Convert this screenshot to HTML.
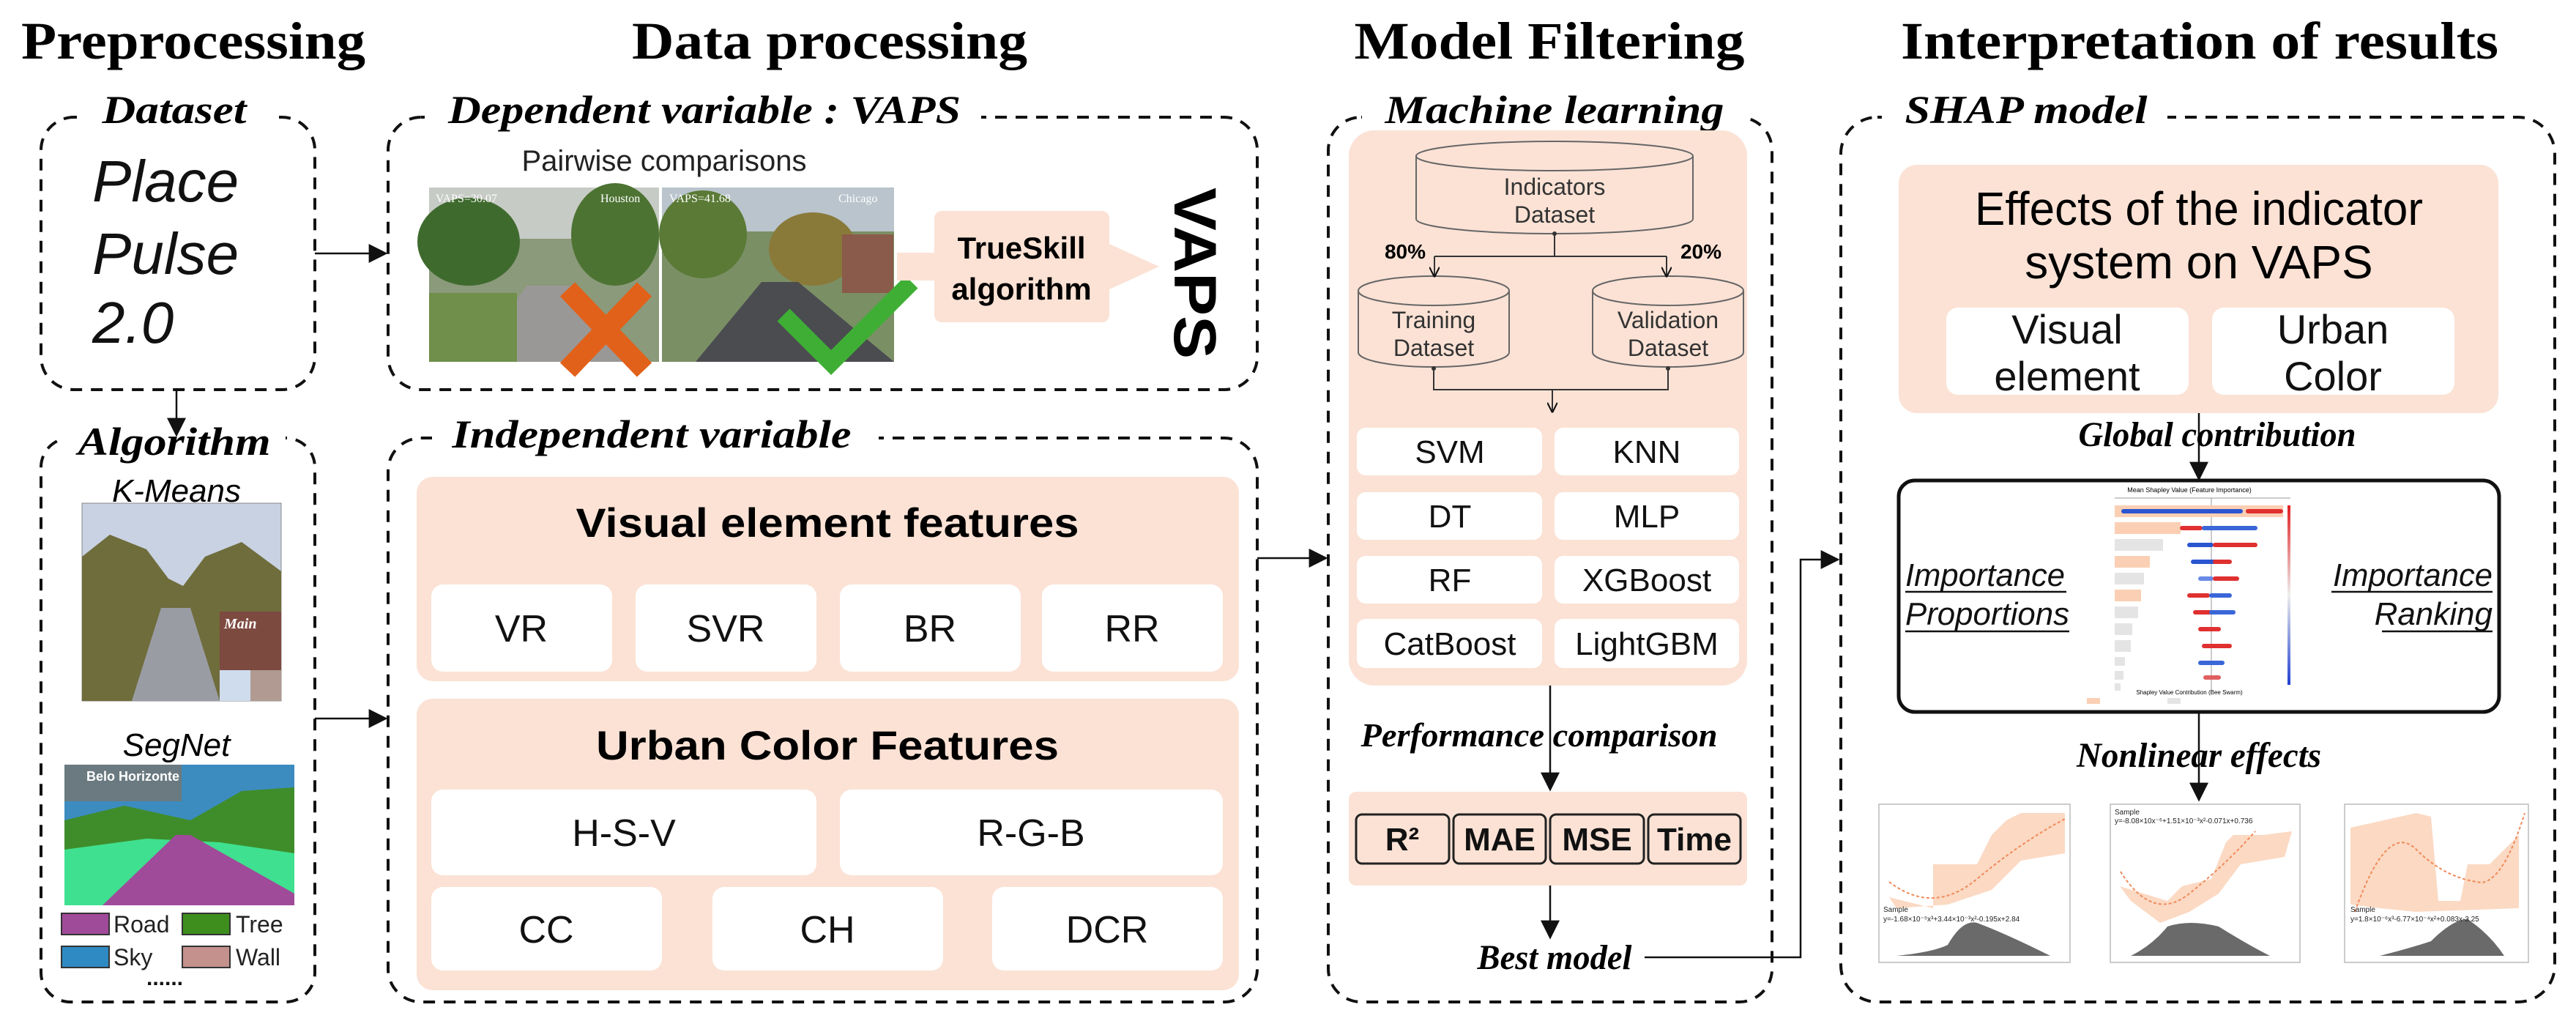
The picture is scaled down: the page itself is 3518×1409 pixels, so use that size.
<!DOCTYPE html>
<html><head><meta charset="utf-8"><style>
html,body{margin:0;padding:0;background:#fff;}
svg{display:block;}
.t{font-family:"Liberation Serif",serif;font-weight:bold;}
.lb{font-family:"Liberation Serif",serif;font-weight:bold;font-style:italic;}
.s{font-family:"Liberation Sans",sans-serif;}
</style></head><body>
<svg width="3518" height="1409" viewBox="0 0 3518 1409" xmlns="http://www.w3.org/2000/svg">
<defs>
<marker id="ah" markerWidth="10" markerHeight="10" refX="9" refY="5" orient="auto" markerUnits="userSpaceOnUse"><path d="M0,0 L10,5 L0,10 z" fill="#111"/></marker>
<marker id="ab" viewBox="0 0 10 10" markerWidth="26" markerHeight="26" refX="9" refY="5" orient="auto" markerUnits="userSpaceOnUse"><path d="M0,0 L10,5 L0,10 z" fill="#111"/></marker>
<marker id="as" viewBox="0 0 10 10" markerWidth="14" markerHeight="14" refX="9" refY="5" orient="auto" markerUnits="userSpaceOnUse"><path d="M0,0 L10,5 L0,10" fill="none" stroke="#111" stroke-width="1.5"/></marker>
</defs>

<!-- Titles -->
<text class="t" x="264" y="80" font-size="72" text-anchor="middle" textLength="470" lengthAdjust="spacingAndGlyphs">Preprocessing</text>
<text class="t" x="1133" y="80" font-size="72" text-anchor="middle" textLength="540" lengthAdjust="spacingAndGlyphs">Data processing</text>
<text class="t" x="2116" y="80" font-size="72" text-anchor="middle" textLength="533" lengthAdjust="spacingAndGlyphs">Model Filtering</text>
<text class="t" x="3004" y="80" font-size="72" text-anchor="middle" textLength="816" lengthAdjust="spacingAndGlyphs">Interpretation of results</text>

<g fill="none" stroke="#111" stroke-width="4" stroke-dasharray="16 12">
<rect x="56" y="160" width="374" height="372" rx="45"/>
<rect x="530" y="160" width="1187" height="372" rx="45"/>
<rect x="56" y="598" width="374" height="770" rx="40"/>
<rect x="530" y="598" width="1187" height="770" rx="45"/>
<rect x="1814" y="160" width="606" height="1208" rx="45"/>
<rect x="2514" y="160" width="975" height="1208" rx="50"/>
</g>
<!-- label backgrounds -->
<g fill="#fff">
<rect x="105" y="120" width="265" height="60"/>
<rect x="580" y="120" width="760" height="60"/>
<rect x="85" y="570" width="305" height="60"/>
<rect x="590" y="560" width="610" height="60"/>
<rect x="1860" y="120" width="520" height="60"/>
<rect x="2570" y="120" width="390" height="60"/>
</g>
<text class="lb" x="238" y="168" font-size="54" text-anchor="middle" textLength="197" lengthAdjust="spacingAndGlyphs">Dataset</text>
<text class="lb" x="962" y="168" font-size="54" text-anchor="middle" textLength="700" lengthAdjust="spacingAndGlyphs">Dependent variable : VAPS</text>
<text class="lb" x="238" y="621" font-size="54" text-anchor="middle" textLength="263" lengthAdjust="spacingAndGlyphs">Algorithm</text>
<text class="lb" x="890" y="611" font-size="54" text-anchor="middle" textLength="545" lengthAdjust="spacingAndGlyphs">Independent variable</text>
<text class="lb" x="2123" y="168" font-size="54" text-anchor="middle" textLength="463" lengthAdjust="spacingAndGlyphs">Machine learning</text>
<text class="lb" x="2767" y="168" font-size="54" text-anchor="middle" textLength="331" lengthAdjust="spacingAndGlyphs">SHAP model</text>

<!-- Dataset -->
<g class="s" font-style="italic" font-size="80" fill="#111">
<text x="126" y="275">Place</text>
<text x="126" y="374">Pulse</text>
<text x="126" y="468">2.0</text>
</g>
<line x1="430" y1="346" x2="527" y2="346" stroke="#111" stroke-width="2.5" marker-end="url(#ab)"/>
<line x1="241" y1="532" x2="241" y2="594" stroke="#111" stroke-width="2.5" marker-end="url(#ab)"/>
<line x1="430" y1="981" x2="527" y2="981" stroke="#111" stroke-width="2.5" marker-end="url(#ab)"/>

<!-- Dependent -->
<text class="s" x="907" y="233" font-size="40" text-anchor="middle" fill="#222">Pairwise comparisons</text>
<!-- photo 1 -->
<rect x="586" y="256" width="314" height="238" fill="#8a9a7a"/>
<rect x="586" y="256" width="314" height="70" fill="#c7cbc5"/>
<ellipse cx="640" cy="330" rx="70" ry="60" fill="#3f6a2e"/>
<ellipse cx="840" cy="320" rx="60" ry="70" fill="#4d7333"/>
<polygon points="720,390 790,390 880,494 640,494" fill="#9a9896"/>
<rect x="586" y="400" width="120" height="94" fill="#6f8f4a"/>
<!-- photo 2 -->
<rect x="904" y="256" width="317" height="238" fill="#7b8f65"/>
<rect x="904" y="256" width="317" height="60" fill="#b9c4cc"/>
<ellipse cx="960" cy="320" rx="60" ry="60" fill="#5a7a36"/>
<ellipse cx="1110" cy="340" rx="60" ry="50" fill="#8a7a3a"/>
<rect x="1150" y="320" width="70" height="80" fill="#8a5a4a"/>
<polygon points="1040,385 1090,385 1221,494 950,494" fill="#4a4c50"/>
<text x="595" y="276" font-size="16" fill="#fff" font-family="Liberation Serif">VAPS=30.07</text>
<text x="820" y="276" font-size="16" fill="#fff" font-family="Liberation Serif">Houston</text>
<text x="914" y="276" font-size="16" fill="#fff" font-family="Liberation Serif">VAPS=41.68</text>
<text x="1145" y="276" font-size="16" fill="#fff" font-family="Liberation Serif">Chicago</text>
<path d="M775,395 L880,505 M880,395 L775,505" stroke="#e2611a" stroke-width="28"/>
<path d="M1070,430 L1135,495 L1245,385" fill="none" stroke="#3fae35" stroke-width="24"/>
<polygon points="1225,345 1515,345 1515,333 1583,364 1515,395 1515,383 1225,383" fill="#fbe2d5"/>
<rect x="1276" y="288" width="239" height="152" rx="10" fill="#fbe2d5"/>
<text class="s" x="1395" y="353" font-size="42" font-weight="bold" text-anchor="middle">TrueSkill</text>
<text class="s" x="1395" y="409" font-size="42" font-weight="bold" text-anchor="middle">algorithm</text>
<text class="s" font-size="82" font-weight="bold" transform="translate(1604,373) rotate(90)" text-anchor="middle" textLength="234" lengthAdjust="spacingAndGlyphs">VAPS</text>

<!-- Algorithm -->
<text class="s" x="241" y="685" font-size="44" font-style="italic" text-anchor="middle">K-Means</text>
<rect x="112" y="687" width="272" height="270" fill="#c8d2e2" stroke="#888" stroke-width="1"/>
<polygon points="112,760 150,730 200,750 230,790 250,800 280,760 330,740 384,780 384,957 112,957" fill="#6f6d3c"/>
<polygon points="220,830 260,830 300,957 180,957" fill="#9a9ca4"/>
<rect x="300" y="835" width="84" height="80" fill="#7d4a40"/>
<rect x="300" y="915" width="42" height="42" fill="#cfdcee"/>
<rect x="342" y="915" width="42" height="42" fill="#b09a92"/>
<text x="306" y="858" font-size="20" fill="#fff" font-family="Liberation Serif" font-style="italic" font-weight="bold">Main</text>
<text class="s" x="241" y="1032" font-size="44" font-style="italic" text-anchor="middle">SegNet</text>
<rect x="88" y="1044" width="314" height="192" fill="#3c8cc0"/>
<polygon points="88,1120 170,1100 260,1120 330,1080 402,1075 402,1236 88,1236" fill="#3f8d2a"/>
<polygon points="88,1160 200,1145 300,1150 402,1165 402,1236 88,1236" fill="#3fe08f"/>
<polygon points="240,1140 260,1140 402,1220 402,1236 140,1236" fill="#a04a9a"/>
<rect x="88" y="1044" width="160" height="50" fill="#6a7a80"/>
<text x="118" y="1066" font-size="18" fill="#fff" font-family="Liberation Sans" font-weight="bold">Belo Horizonte</text>
<rect x="84" y="1247" width="65" height="29" fill="#a04a9a" stroke="#333" stroke-width="2"/>
<rect x="249" y="1247" width="65" height="29" fill="#3e8e1e" stroke="#333" stroke-width="2"/>
<rect x="84" y="1292" width="65" height="29" fill="#2f8ac3" stroke="#333" stroke-width="2"/>
<rect x="249" y="1292" width="65" height="29" fill="#c4918c" stroke="#333" stroke-width="2"/>
<g class="s" font-size="32" fill="#222">
<text x="155" y="1273">Road</text><text x="322" y="1273">Tree</text>
<text x="155" y="1318">Sky</text><text x="322" y="1318">Wall</text>
</g>
<text x="200" y="1345" font-size="30" font-weight="bold" fill="#111" font-family="Liberation Sans">......</text>

<!-- Independent -->
<rect x="569" y="651" width="1123" height="279" rx="22" fill="#fbe2d5"/>
<text class="s" x="1130" y="733" font-size="56" font-weight="bold" text-anchor="middle" textLength="687" lengthAdjust="spacingAndGlyphs">Visual element features</text>
<g fill="#fff">
<rect x="589" y="798" width="247" height="119" rx="16"/>
<rect x="868" y="798" width="247" height="119" rx="16"/>
<rect x="1147" y="798" width="247" height="119" rx="16"/>
<rect x="1423" y="798" width="247" height="119" rx="16"/>
</g>
<g class="s" font-size="52" text-anchor="middle" fill="#111">
<text x="712" y="876">VR</text><text x="991" y="876">SVR</text><text x="1270" y="876">BR</text><text x="1546" y="876">RR</text>
</g>
<rect x="569" y="954" width="1123" height="398" rx="22" fill="#fbe2d5"/>
<text class="s" x="1130" y="1037" font-size="56" font-weight="bold" text-anchor="middle" textLength="632" lengthAdjust="spacingAndGlyphs">Urban Color Features</text>
<g fill="#fff">
<rect x="589" y="1078" width="526" height="117" rx="16"/>
<rect x="1147" y="1078" width="523" height="117" rx="16"/>
<rect x="589" y="1211" width="315" height="114" rx="16"/>
<rect x="973" y="1211" width="315" height="114" rx="16"/>
<rect x="1355" y="1211" width="315" height="114" rx="16"/>
</g>
<g class="s" font-size="52" text-anchor="middle" fill="#111">
<text x="852" y="1155">H-S-V</text><text x="1408" y="1155">R-G-B</text>
<text x="746" y="1287">CC</text><text x="1130" y="1287">CH</text><text x="1512" y="1287">DCR</text>
</g>
<line x1="1717" y1="762" x2="1811" y2="762" stroke="#111" stroke-width="2.5" marker-end="url(#ab)"/>

<!-- Machine learning -->
<rect x="1842" y="178" width="544" height="758" rx="35" fill="#fbe2d5"/>
<g fill="#fbe2d5" stroke="#666" stroke-width="2">
<path d="M1934,213 L1934,299 A189,20 0 0 0 2312,299 L2312,213"/>
<ellipse cx="2123" cy="213" rx="189" ry="20"/>
<path d="M1855,397 L1855,481 A103,20 0 0 0 2061,481 L2061,397"/>
<ellipse cx="1958" cy="397" rx="103" ry="20"/>
<path d="M2175,397 L2175,481 A103,20 0 0 0 2381,481 L2381,397"/>
<ellipse cx="2278" cy="397" rx="103" ry="20"/>
</g>
<g class="s" font-size="32" text-anchor="middle" fill="#333">
<text x="2123" y="266">Indicators</text><text x="2123" y="304">Dataset</text>
<text x="1958" y="448">Training</text><text x="1958" y="486">Dataset</text>
<text x="2278" y="448">Validation</text><text x="2278" y="486">Dataset</text>
</g>
<g fill="none" stroke="#333" stroke-width="2">
<path d="M2123,319 L2123,350 M1959,350 L2276,350"/>
<path d="M1959,350 L1959,377" marker-end="url(#as)"/>
<path d="M2276,350 L2276,377" marker-end="url(#as)"/>
<path d="M1958,503 L1958,532 L2278,532 L2278,503"/>
<path d="M2120,532 L2120,562" marker-end="url(#as)"/>
</g>
<circle cx="2123" cy="319" r="3" fill="#333"/><circle cx="1958" cy="503" r="3" fill="#333"/><circle cx="2278" cy="503" r="3" fill="#333"/>
<text class="s" x="1919" y="353" font-size="28" font-weight="bold" text-anchor="middle">80%</text>
<text class="s" x="2323" y="353" font-size="28" font-weight="bold" text-anchor="middle">20%</text>
<g fill="#fff">
<rect x="1853" y="584" width="253" height="65" rx="12"/><rect x="2123" y="584" width="252" height="65" rx="12"/>
<rect x="1853" y="672" width="253" height="65" rx="12"/><rect x="2123" y="672" width="252" height="65" rx="12"/>
<rect x="1853" y="759" width="253" height="65" rx="12"/><rect x="2123" y="759" width="252" height="65" rx="12"/>
<rect x="1853" y="845" width="253" height="67" rx="12"/><rect x="2123" y="845" width="252" height="67" rx="12"/>
</g>
<g class="s" font-size="44" text-anchor="middle" fill="#111">
<text x="1980" y="632">SVM</text><text x="2249" y="632">KNN</text>
<text x="1980" y="720">DT</text><text x="2249" y="720">MLP</text>
<text x="1980" y="807">RF</text><text x="2249" y="807">XGBoost</text>
<text x="1980" y="894">CatBoost</text><text x="2249" y="894">LightGBM</text>
</g>
<line x1="2117" y1="936" x2="2117" y2="1078" stroke="#111" stroke-width="2.5" marker-end="url(#ab)"/>
<rect x="2000" y="985" width="110" height="40" fill="#fff"/>
<text class="lb" x="2102" y="1019" font-size="46" text-anchor="middle" textLength="487" lengthAdjust="spacingAndGlyphs">Performance comparison</text>
<rect x="1842" y="1081" width="544" height="128" rx="10" fill="#fbe2d5"/>
<g fill="#fbe2d5" stroke="#222" stroke-width="3">
<rect x="1852" y="1112" width="127" height="67" rx="8"/><rect x="1985" y="1112" width="126" height="67" rx="8"/>
<rect x="2117" y="1112" width="128" height="67" rx="8"/><rect x="2251" y="1112" width="126" height="67" rx="8"/>
</g>
<g class="s" font-size="44" font-weight="bold" text-anchor="middle" fill="#111">
<text x="1915" y="1161">R²</text><text x="2048" y="1161">MAE</text><text x="2181" y="1161">MSE</text><text x="2314" y="1161">Time</text>
</g>
<line x1="2117" y1="1209" x2="2117" y2="1280" stroke="#111" stroke-width="2.5" marker-end="url(#ab)"/>
<text class="lb" x="2123" y="1323" font-size="48" text-anchor="middle" textLength="211" lengthAdjust="spacingAndGlyphs">Best model</text>
<polyline points="2246,1307 2459,1307 2459,764 2510,764" fill="none" stroke="#111" stroke-width="2.5" marker-end="url(#ab)"/>

<!-- SHAP -->
<rect x="2593" y="225" width="819" height="339" rx="25" fill="#fbe2d5"/>
<text class="s" x="3003" y="307" font-size="64" text-anchor="middle" textLength="612" lengthAdjust="spacingAndGlyphs">Effects of the indicator</text>
<text class="s" x="3003" y="380" font-size="64" text-anchor="middle">system on VAPS</text>
<rect x="2658" y="420" width="331" height="119" rx="16" fill="#fff"/>
<rect x="3021" y="420" width="331" height="119" rx="16" fill="#fff"/>
<g class="s" font-size="56" text-anchor="middle" fill="#111">
<text x="2823" y="469">Visual</text><text x="2823" y="533">element</text>
<text x="3186" y="469">Urban</text><text x="3186" y="533">Color</text>
</g>
<line x1="3003" y1="564" x2="3003" y2="654" stroke="#111" stroke-width="2.5" marker-end="url(#ab)"/>
<text class="lb" x="3028" y="609" font-size="48" text-anchor="middle" textLength="379" lengthAdjust="spacingAndGlyphs">Global contribution</text>
<rect x="2593" y="656" width="820" height="316" rx="22" fill="#fff" stroke="#111" stroke-width="5"/>
<!-- shap chart -->
<g>
<text x="2990" y="672" font-size="9" font-family="Liberation Sans" text-anchor="middle">Mean Shapley Value (Feature Importance)</text>
<line x1="2888" y1="680" x2="3128" y2="680" stroke="#999" stroke-width="1"/>
<line x1="3020" y1="680" x2="3020" y2="942" stroke="#999" stroke-width="1"/>
<g fill="#fbcfb4">
<rect x="2888" y="690" width="230" height="16"/><rect x="2888" y="713" width="90" height="16"/>
<rect x="2888" y="759" width="48" height="16"/><rect x="2888" y="805" width="36" height="16"/>
</g>
<g fill="#e4e4e4">
<rect x="2888" y="736" width="66" height="16"/><rect x="2888" y="782" width="40" height="16"/>
<rect x="2888" y="828" width="32" height="16"/><rect x="2888" y="851" width="24" height="16"/>
<rect x="2888" y="874" width="22" height="16"/><rect x="2888" y="897" width="14" height="12"/>
<rect x="2888" y="916" width="12" height="12"/><rect x="2888" y="933" width="8" height="10"/>
</g>
<g stroke-width="6" stroke-linecap="round">
<line x1="2900" y1="698" x2="3060" y2="698" stroke="#2a55d0"/><line x1="3070" y1="698" x2="3115" y2="698" stroke="#e03030"/>
<line x1="2980" y1="721" x2="3005" y2="721" stroke="#e03030"/><line x1="3010" y1="721" x2="3080" y2="721" stroke="#3a66d8"/>
<line x1="2990" y1="744" x2="3020" y2="744" stroke="#2a55d0"/><line x1="3025" y1="744" x2="3080" y2="744" stroke="#e03030"/>
<line x1="2995" y1="767" x2="3025" y2="767" stroke="#2a55d0"/><line x1="3025" y1="767" x2="3045" y2="767" stroke="#e03030"/>
<line x1="3005" y1="790" x2="3020" y2="790" stroke="#6a8ae8"/><line x1="3025" y1="790" x2="3055" y2="790" stroke="#e03030"/>
<line x1="2990" y1="813" x2="3015" y2="813" stroke="#e03030"/><line x1="3020" y1="813" x2="3045" y2="813" stroke="#3a66d8"/>
<line x1="2998" y1="836" x2="3018" y2="836" stroke="#e03030"/><line x1="3020" y1="836" x2="3050" y2="836" stroke="#3a66d8"/>
<line x1="3005" y1="859" x2="3030" y2="859" stroke="#e03030"/>
<line x1="3010" y1="882" x2="3045" y2="882" stroke="#e03030"/>
<line x1="3005" y1="905" x2="3035" y2="905" stroke="#3a66d8"/>
<line x1="3012" y1="925" x2="3030" y2="925" stroke="#e06060"/>
</g>
<line x1="3128" y1="690" x2="3128" y2="935" stroke="url(#cg)" stroke-width="3"/>
<linearGradient id="cg" x1="0" y1="0" x2="0" y2="1"><stop offset="0" stop-color="#e02020"/><stop offset="0.5" stop-color="#eee"/><stop offset="1" stop-color="#2040d0"/></linearGradient>
<rect x="3124" y="690" width="4" height="245" fill="url(#cg)"/>
<rect x="2850" y="953" width="18" height="8" fill="#fbcfb4"/><rect x="2960" y="953" width="18" height="8" fill="#e4e4e4"/>
<text x="2990" y="948" font-size="8" font-family="Liberation Sans" text-anchor="middle">Shapley Value Contribution (Bee Swarm)</text>
</g>
<g class="s" font-size="44" font-style="italic" fill="#111">
<text x="2602" y="800" textLength="218" lengthAdjust="spacingAndGlyphs">Importance</text>
<text x="2602" y="853" textLength="224" lengthAdjust="spacingAndGlyphs">Proportions</text>
<text x="3404" y="800" text-anchor="end" textLength="218" lengthAdjust="spacingAndGlyphs">Importance</text>
<text x="3404" y="853" text-anchor="end">Ranking</text>
</g>
<g stroke="#111" stroke-width="2.5">
<line x1="2602" y1="808" x2="2822" y2="808"/><line x1="2602" y1="862" x2="2826" y2="862"/>
<line x1="3184" y1="808" x2="3404" y2="808"/><line x1="3253" y1="862" x2="3404" y2="862"/>
</g>
<line x1="3003" y1="972" x2="3003" y2="1092" stroke="#111" stroke-width="2.5" marker-end="url(#ab)"/>
<text class="lb" x="3003" y="1047" font-size="48" text-anchor="middle" textLength="334" lengthAdjust="spacingAndGlyphs">Nonlinear effects</text>

<!-- plots -->
<g fill="none" stroke="#bbb" stroke-width="1.5">
<rect x="2566" y="1098" width="261" height="216"/>
<rect x="2882" y="1098" width="259" height="216"/>
<rect x="3202" y="1098" width="251" height="216"/>
</g>
<g fill="#fbd5bd" opacity="0.9">
<path d="M2580,1225 L2640,1240 L2640,1180 L2700,1180 L2720,1140 L2740,1120 L2760,1110 L2820,1110 L2820,1165 L2760,1175 L2720,1215 L2660,1235 L2590,1240 z"/>
<path d="M2895,1210 L2960,1230 L2980,1210 L3020,1200 L3040,1150 L3050,1140 L3090,1140 L3130,1135 L3120,1170 L3060,1180 L3030,1220 L2990,1245 L2950,1260 L2910,1230 z"/>
<path d="M3210,1130 L3300,1110 L3320,1115 L3330,1230 L3360,1230 L3370,1180 L3400,1180 L3440,1140 L3440,1240 L3300,1245 L3250,1240 L3210,1235 z"/>
</g>
<g fill="none" stroke="#f08a5a" stroke-width="2" stroke-dasharray="4 3">
<path d="M2580,1204 Q2640,1250 2700,1200 T2820,1118"/>
<path d="M2896,1190 Q2940,1260 2990,1220 T3080,1135"/>
<path d="M3216,1245 Q3260,1120 3300,1160 T3390,1205 Q3420,1200 3448,1110"/>
</g>
<g fill="#6a6a6a">
<path d="M2590,1305 Q2640,1300 2660,1290 Q2680,1255 2700,1260 Q2740,1275 2800,1305 z"/>
<path d="M2910,1305 Q2940,1290 2960,1265 Q2990,1255 3030,1265 Q3070,1290 3100,1305 z"/>
<path d="M3250,1305 Q3290,1295 3320,1285 Q3350,1255 3370,1255 Q3400,1275 3420,1305 z"/>
</g>
<g font-family="Liberation Sans" font-size="10" fill="#222">
<text x="2572" y="1245">Sample</text><text x="2572" y="1258">y=-1.68×10⁻⁵x³+3.44×10⁻³x²-0.195x+2.84</text>
<text x="2888" y="1112">Sample</text><text x="2888" y="1124">y=-8.08×10x⁻⁶+1.51×10⁻³x²-0.071x+0.736</text>
<text x="3210" y="1245">Sample</text><text x="3210" y="1258">y=1.8×10⁻⁶x³-6.77×10⁻⁴x²+0.083x-3.25</text>
</g>
</svg>
</body></html>
